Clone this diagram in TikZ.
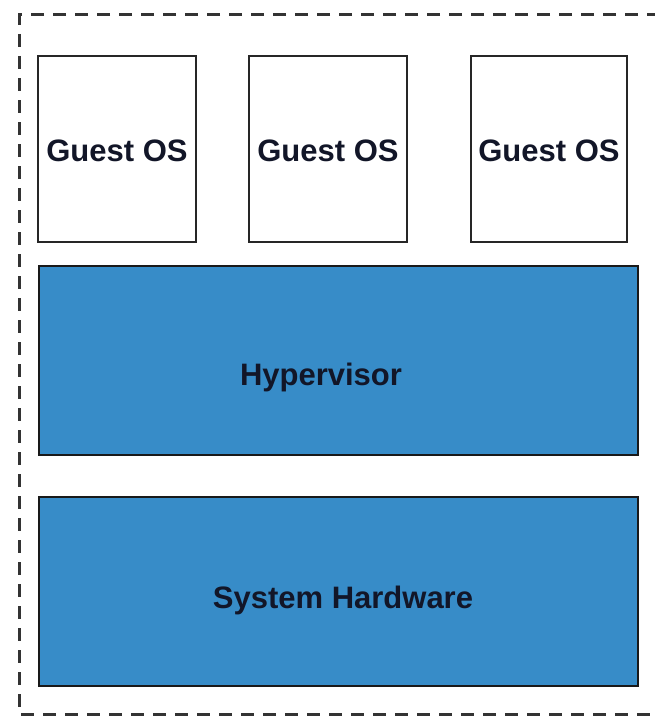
\documentclass[tikz,border=0pt]{standalone}
\usepackage{fontspec}
\setmainfont{Liberation Sans}
\begin{document}
\begin{tikzpicture}[x=1pt,y=-1pt,
  guest/.style={draw=black!85, line width=1.5pt, fill=white},
  layer/.style={draw=black!90, line width=2.2pt, fill=blueFill},
  lbl/.style={font=\fontsize{31}{36}\selectfont\bfseries, text=textDark}]
\definecolor{blueFill}{RGB}{55,140,200}
\definecolor{textDark}{RGB}{18,22,40}
\useasboundingbox (0,0) rectangle (655,717);
\draw[line width=3pt, black!80, dash pattern=on 13pt off 9pt]
  (660,15) -- (19,15) -- (19,714) -- (660,714);
\draw[guest] (38,56) rectangle (196,242);
\draw[guest] (249,56) rectangle (407,242);
\draw[guest] (471,56) rectangle (627,242);
\node[lbl] (g1) at (117,151) {Guest OS};
\node[lbl] (g2) at (328,151) {Guest OS};
\node[lbl] (g3) at (549,151) {Guest OS};
\draw[layer] (39,266) rectangle (638,455);
\node[lbl] (hv) at (321,377) {Hypervisor};
\draw[layer] (39,497) rectangle (638,686);
\node[lbl] (hw) at (343,600) {System Hardware};
\end{tikzpicture}
\end{document}
